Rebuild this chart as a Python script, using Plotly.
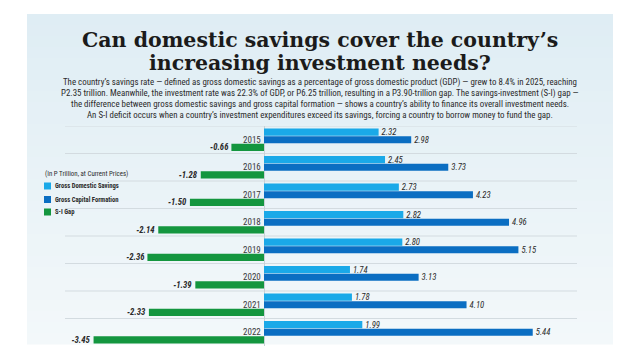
import plotly.graph_objects as go

years = ["2015", "2016", "2017", "2018", "2019", "2020", "2021", "2022"]
gds = [2.32, 2.45, 2.73, 2.82, 2.80, 1.74, 1.78, 1.99]
gcf = [2.98, 3.73, 4.23, 4.96, 5.15, 3.13, 4.10, 5.44]
gap = [-0.66, -1.28, -1.50, -2.14, -2.36, -1.39, -2.33, -3.45]

series_names = ["Gross Domestic Savings", "Gross Capital Formation", "S-I Gap"]
colors = ["#1aa9e8", "#0b6ec2", "#14963f"]

title_lines = ["Can domestic savings cover the country\u2019s",
               "increasing investment needs?"]
sub_lines = [
    "The country\u2019s savings rate \u2014 defined as gross domestic savings as a percentage of gross domestic product (GDP) \u2014 grew to 8.4% in 2025, reaching",
    "P2.35 trillion. Meanwhile, the investment rate was 22.3% of GDP, or P6.25 trillion, resulting in a P3.90-trillion gap. The savings-investment (S-I) gap \u2014",
    "the difference between gross domestic savings and gross capital formation \u2014 shows a country\u2019s ability to finance its overall investment needs.",
    "An S-I deficit occurs when a country\u2019s investment expenditures exceed its savings, forcing a country to borrow money to fund the gap.",
]
unit_note = "(In P Trillion, at Current Prices)"

W, H = 640, 360
PL, PR, PT, PB = 65, 577, 126, 346  # plot area in pixels
NARROW = "Roboto Condensed, DejaVu Sans Condensed, sans-serif"
SERIF = "DejaVu Serif, Liberation Serif, serif"


def px_x(x):
    return (x - PL) / (PR - PL)


def px_y(y):
    return (PB - y) / (PB - PT)


fig = go.Figure()
for name, vals, col, bold in zip(series_names, [gds, gcf, gap], colors, [False, False, True]):
    fig.add_trace(go.Bar(
        y=years, x=vals, name=name, orientation="h",
        marker=dict(color=col, line=dict(width=0)),
        texttemplate="%{x:.2f}", textposition="outside",
        constraintext="none", cliponaxis=False,
        textfont=dict(family=NARROW, size=8.7, color="#2a2a2a",
                      style="italic", weight="bold" if bold else "normal"),
        showlegend=False, hoverinfo="skip",
    ))

shapes = []
# panel background gradient
top_c = (223, 237, 244)
bot_c = (243, 248, 250)
N = 30
py0, py1 = 14, 344
for i in range(N):
    t = i / (N - 1)
    c = tuple(int(round(top_c[k] + (bot_c[k] - top_c[k]) * t)) for k in range(3))
    ya = py0 + (py1 - py0) * i / N
    yb = py0 + (py1 - py0) * (i + 1) / N + 0.5
    shapes.append(dict(type="rect", xref="paper", yref="paper",
                       x0=px_x(27), x1=px_x(613), y0=px_y(yb), y1=px_y(ya),
                       fillcolor="rgb(%d,%d,%d)" % c, line=dict(width=0), layer="below"))
# separators between year groups
for i in range(len(years)):
    shapes.append(dict(type="line", xref="paper", yref="y", x0=0, x1=1,
                       y0=i - 0.5, y1=i - 0.5,
                       line=dict(color="#d3dbe0", width=1), layer="below"))

annotations = []
title_y = [40, 63]
for line, yy in zip(title_lines, title_y):
    annotations.append(dict(text="<b>%s</b>" % line, xref="paper", yref="paper",
                            x=px_x(320), y=px_y(yy), xanchor="center", yanchor="middle",
                            showarrow=False, font=dict(family=SERIF, size=20.5, color="#1b1b1b")))
sub_y = [83, 93.5, 104, 114.5]
for line, yy in zip(sub_lines, sub_y):
    annotations.append(dict(text=line, xref="paper", yref="paper",
                            x=px_x(320), y=px_y(yy), xanchor="center", yanchor="middle",
                            showarrow=False, font=dict(family=NARROW, size=8.9, color="#2b2b2b")))
# year labels at the zero line
for i, yr in enumerate(years):
    annotations.append(dict(text=yr, xref="x", yref="y", x=0, y=i, xanchor="right",
                            yanchor="middle", xshift=-1, showarrow=False,
                            font=dict(family=NARROW, size=9, color="#3a3a3a")))
# legend (manual)
annotations.append(dict(text=unit_note, xref="paper", yref="paper", x=px_x(43), y=px_y(173.5),
                        xanchor="left", yanchor="middle", showarrow=False,
                        font=dict(family=NARROW, size=6.9, color="#2b2b2b")))
leg_y = [186, 199.5, 212]
for name, col, yy in zip(series_names, colors, leg_y):
    shapes.append(dict(type="rect", xref="paper", yref="paper",
                       x0=px_x(44), x1=px_x(51), y0=px_y(yy + 3.5), y1=px_y(yy - 3.5),
                       fillcolor=col, line=dict(width=0)))
    annotations.append(dict(text="<b>%s</b>" % name, xref="paper", yref="paper",
                            x=px_x(53), y=px_y(yy), xanchor="left", yanchor="middle",
                            showarrow=False,
                            font=dict(family=NARROW, size=6.6, color="#2b2b2b")))

fig.update_layout(
    width=W, height=H,
    margin=dict(l=PL, r=W - PR, t=PT, b=H - PB, pad=0),
    paper_bgcolor="white", plot_bgcolor="rgba(0,0,0,0)",
    barmode="group", bargap=0.17, bargroupgap=0.06,
    xaxis=dict(range=[-(264 - PL) / 49.4, (PR - 264) / 49.4], showgrid=False,
               showticklabels=False, zeroline=True, zerolinecolor="#c9d1d6",
               zerolinewidth=1, fixedrange=True),
    yaxis=dict(type="category", categoryorder="array", categoryarray=years,
               range=[len(years) - 0.5, -0.5], showgrid=False, showticklabels=False,
               zeroline=False, fixedrange=True),
    shapes=shapes, annotations=annotations, showlegend=False,
)

fig.write_html("out.html", config={"displayModeBar": False},
               post_script="document.body.style.margin='0px';")
